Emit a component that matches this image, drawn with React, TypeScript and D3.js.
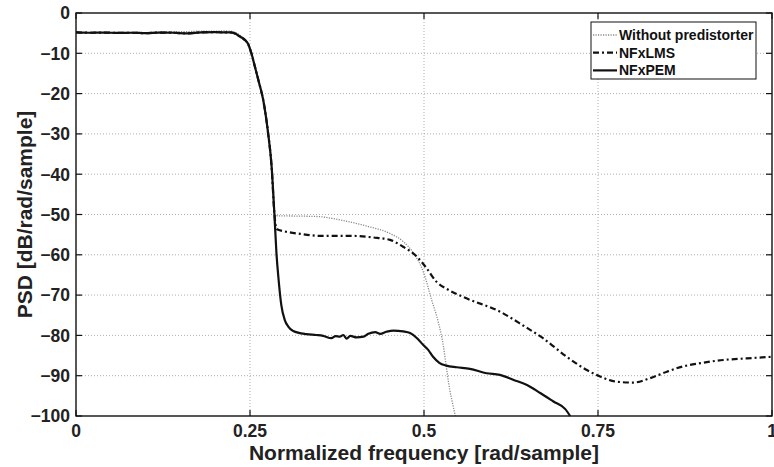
import React from "react";
import * as d3 from "d3";

const xTicks = [0, 0.25, 0.5, 0.75, 1];
const xTickLabels = ["0", "0.25", "0.5", "0.75", "1"];
const yTicks = [0, -10, -20, -30, -40, -50, -60, -70, -80, -90, -100];

const passFreq = [0, 0.02, 0.04, 0.06, 0.08, 0.1, 0.12, 0.14, 0.16, 0.18, 0.2, 0.21, 0.221, 0.23, 0.236, 0.242, 0.2476, 0.252, 0.257, 0.263, 0.269, 0.276, 0.281, 0.285];
const passPsd = [-4.8, -4.9, -4.85, -4.95, -4.9, -5.0, -4.85, -4.9, -5.05, -4.8, -4.75, -4.8, -4.8, -5.2, -5.9, -6.6, -7.8, -10, -13.3, -17.3, -21.6, -29.8, -38, -49.7];
const passPsdRaw = [-4.8, -4.85, -4.8, -4.9, -4.8, -4.85, -4.7, -4.6, -4.6, -4.5, -4.5, -4.45, -4.5, -4.9, -5.6, -6.4, -7.6, -9.8, -13.0, -17.1, -21.4, -29.6, -37.8, -49.7];

const pemFreq = [0.288, 0.291, 0.295, 0.3, 0.305, 0.312, 0.331, 0.345, 0.355, 0.367, 0.373, 0.379, 0.384, 0.389, 0.394, 0.403, 0.413, 0.42, 0.43, 0.437, 0.446, 0.456, 0.47, 0.48, 0.49, 0.499, 0.506, 0.513, 0.522, 0.532, 0.547, 0.566, 0.59, 0.609, 0.628, 0.648, 0.667, 0.686, 0.703, 0.71];
const pemPsd = [-59.6, -66, -72.5, -76.2, -77.8, -78.9, -79.7, -79.9, -80.1, -80.7, -80.2, -80.3, -79.9, -80.8, -80.1, -80.5, -80.3, -79.6, -79.2, -79.6, -79.1, -78.8, -79, -79.4, -80.7, -82.4, -83.6, -85.3, -86.8, -87.5, -87.9, -88.3, -89.4, -89.8, -91, -92.3, -94.3, -96.4, -98.3, -100];

const rawFreq = [0.288, 0.32, 0.346, 0.384, 0.418, 0.451, 0.47, 0.485, 0.499, 0.511, 0.521, 0.528, 0.531, 0.537, 0.542, 0.545];
const rawPsd = [-50.3, -50.4, -50.5, -51.5, -52.9, -54.7, -56.7, -59.6, -64.2, -71.2, -77, -82.8, -86.5, -93.5, -97.6, -100];

const lmsFreq = [0.288, 0.3, 0.322, 0.351, 0.394, 0.427, 0.451, 0.47, 0.49, 0.504, 0.518, 0.533, 0.561, 0.609, 0.643, 0.671, 0.705, 0.734, 0.753, 0.777, 0.801, 0.825, 0.849, 0.872, 0.897, 0.93, 0.964, 1.0];
const lmsPsd = [-53.6, -54.2, -54.8, -55.3, -55.3, -55.7, -56.3, -58, -60.5, -63.4, -66.7, -68.5, -70.8, -74.1, -77.6, -80.7, -85.3, -88.6, -90.2, -91.5, -91.7, -90.6, -89, -87.7, -86.9, -86.1, -85.7, -85.3];

const legendLabels = ["Without predistorter", "NFxLMS", "NFxPEM"];

const W = 774, H = 467;
const L = 76, R = 772, T = 13, B = 416;
const FONT = "'Liberation Sans', Arial, Helvetica, sans-serif";

export default function App() {
  const x = d3.scaleLinear().domain([0, 1]).range([L, R]);
  const y = d3.scaleLinear().domain([-100, 0]).range([B, T]);
  const line = d3
    .line<[number, number]>()
    .x((d) => x(d[0]))
    .y((d) => y(d[1]))
    .curve(d3.curveMonotoneX);

  const zip = (f: number[], p: number[]) => f.map((v, i) => [v, p[i]] as [number, number]);
  const pem = [...zip(passFreq, passPsd), ...zip(pemFreq, pemPsd)];
  const raw = [...zip(passFreq, passPsdRaw), ...zip(rawFreq, rawPsd)];
  const lms = [...zip(passFreq, passPsd), ...zip(lmsFreq, lmsPsd)];

  const styles = [
    { stroke: "#8a8a8a", width: 1.3, dash: "1.2,1.3" },
    { stroke: "#111", width: 2.2, dash: "6,3,2,3" },
    { stroke: "#111", width: 2.2, dash: "" },
  ];

  return (
    <svg width={W} height={H} style={{ position: "absolute", left: 0, top: 0, background: "#fff" }} fontFamily={FONT}>
      <defs>
        <clipPath id="plot">
          <rect x={L} y={T - 1} width={R - L} height={B - T + 2} />
        </clipPath>
      </defs>
      <rect x={0} y={0} width={W} height={H} fill="#fff" />
      {xTicks.slice(1, -1).map((t) => (
        <line key={"gx" + t} x1={x(t)} x2={x(t)} y1={T} y2={B} stroke="#9a9a9a" strokeWidth={0.8} strokeDasharray="1,2" />
      ))}
      {yTicks.slice(1, -1).map((t) => (
        <line key={"gy" + t} x1={L} x2={R} y1={y(t)} y2={y(t)} stroke="#9a9a9a" strokeWidth={0.8} strokeDasharray="1,2" />
      ))}
      <g clipPath="url(#plot)" fill="none" strokeLinejoin="round">
        <path d={line(raw) || ""} stroke={styles[0].stroke} strokeWidth={styles[0].width} strokeDasharray={styles[0].dash} />
        <path d={line(lms) || ""} stroke={styles[1].stroke} strokeWidth={styles[1].width} strokeDasharray={styles[1].dash} />
        <path d={line(pem) || ""} stroke={styles[2].stroke} strokeWidth={styles[2].width} />
      </g>
      <rect x={L} y={T} width={R - L} height={B - T} fill="none" stroke="#111" strokeWidth={1.4} />
      {xTicks.map((t) => (
        <g key={"tx" + t}>
          <line x1={x(t)} x2={x(t)} y1={B} y2={B - 6} stroke="#111" strokeWidth={1.2} />
          <line x1={x(t)} x2={x(t)} y1={T} y2={T + 6} stroke="#111" strokeWidth={1.2} />
        </g>
      ))}
      {yTicks.map((t) => (
        <g key={"ty" + t}>
          <line x1={L} x2={L + 6} y1={y(t)} y2={y(t)} stroke="#111" strokeWidth={1.2} />
          <line x1={R} x2={R - 6} y1={y(t)} y2={y(t)} stroke="#111" strokeWidth={1.2} />
        </g>
      ))}
      {xTicks.map((t, i) => (
        <text key={"lx" + t} x={x(t)} y={437} textAnchor="middle" fontSize={17.5} fontWeight="bold" fill="#222">
          {xTickLabels[i]}
        </text>
      ))}
      {yTicks.map((t) => (
        <text key={"ly" + t} x={70} y={y(t)} dy="0.36em" textAnchor="end" fontSize={17.5} fontWeight="bold" fill="#222">
          {t === 0 ? "0" : "\u2212" + Math.abs(t)}
        </text>
      ))}
      <text x={(L + R) / 2} y={460} textAnchor="middle" fontSize={21} fontWeight="bold" fill="#222">
        Normalized frequency [rad/sample]
      </text>
      <text transform={`translate(32,${(T + B) / 2}) rotate(-90)`} textAnchor="middle" fontSize={21} fontWeight="bold" fill="#222">
        PSD [dB/rad/sample]
      </text>
      <rect x={591} y={22} width={165} height={57} fill="#fff" stroke="#111" strokeWidth={1} />
      {legendLabels.map((lab, i) => {
        const cy = 35 + i * 17.7;
        const s = styles[i];
        return (
          <g key={lab}>
            <line x1={593} x2={617} y1={cy} y2={cy} stroke={s.stroke} strokeWidth={s.width} strokeDasharray={s.dash} />
            <text x={619} y={cy + 5} fontSize={14} fontWeight="bold" fill="#111">
              {lab}
            </text>
          </g>
        );
      })}
    </svg>
  );
}
